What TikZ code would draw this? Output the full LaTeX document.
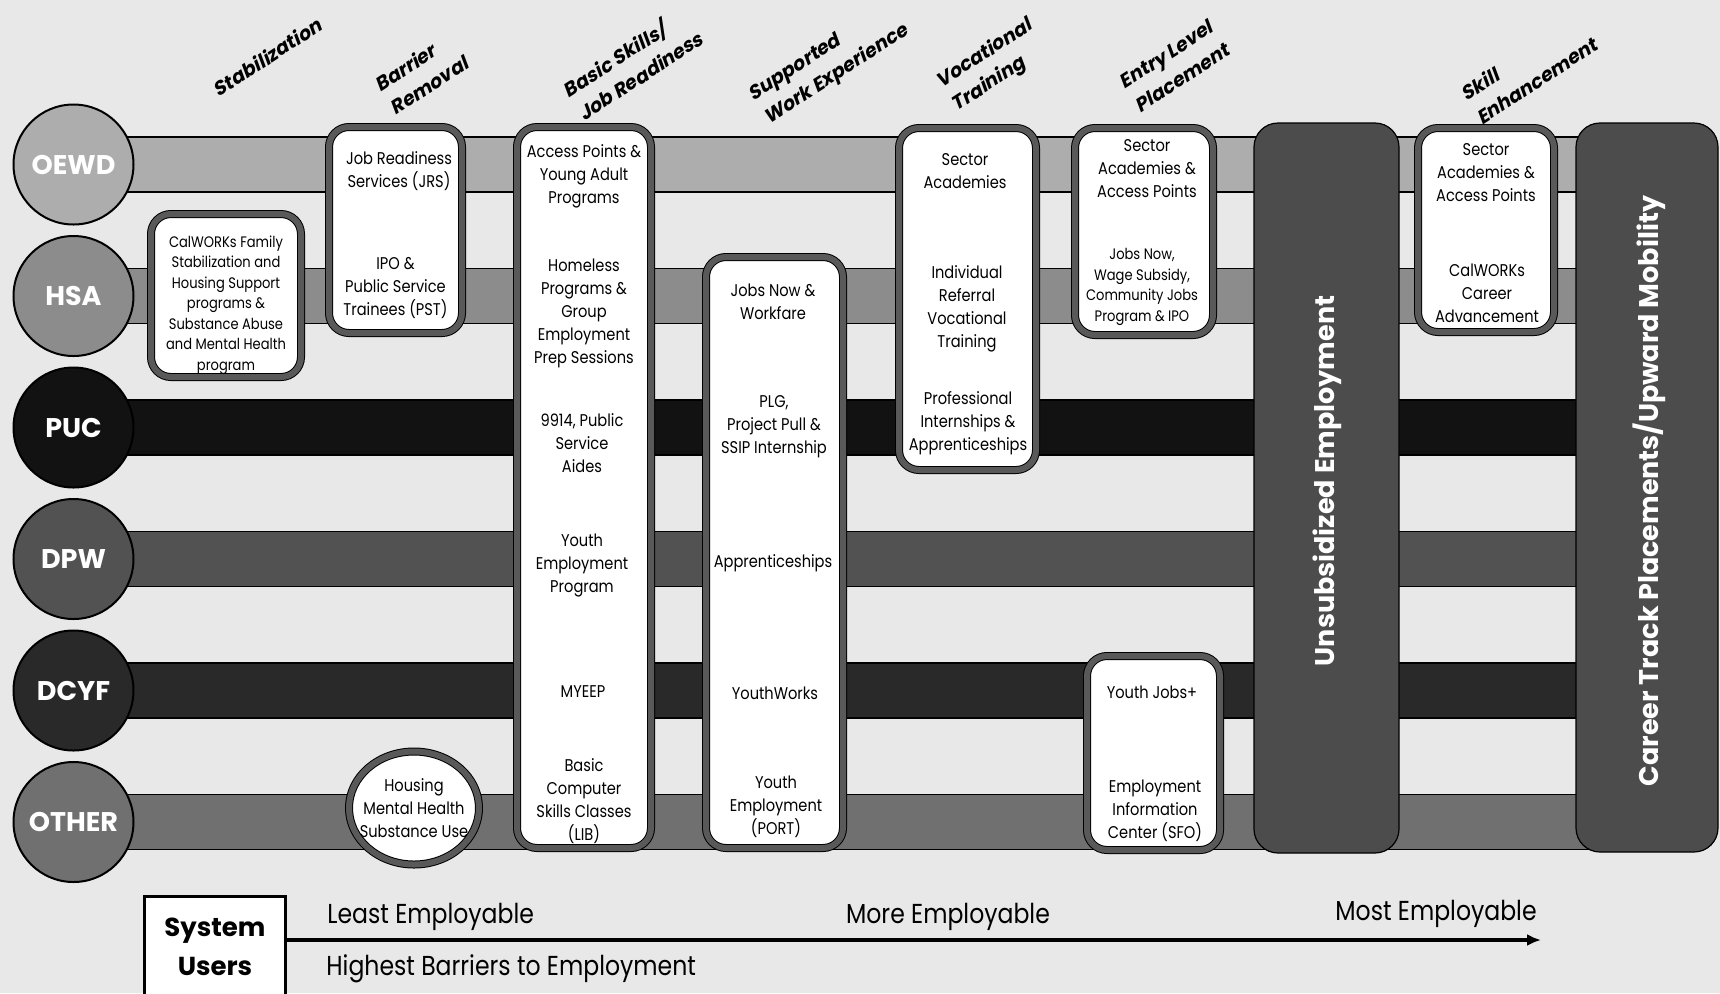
\documentclass[tikz,border=0pt]{standalone}
\usepackage{fontspec}
\setmainfont{Poppins}
\newfontfamily\boxfont{Poppins}[FakeStretch=0.86]
\newfontfamily\phasefont{Poppins}[FakeSlant=0.22]
\usetikzlibrary{shapes.geometric,calc,arrows.meta}
\pgfdeclarelayer{paper}
\pgfdeclarelayer{bands}
\pgfsetlayers{paper,bands,main}

\definecolor{papercol}{gray}{0.91}
\definecolor{rim}{gray}{0.35}
\definecolor{colfill}{gray}{0.3}
\colorlet{oewdc}{black!32}
\colorlet{hsac}{black!45}
\colorlet{pucc}{black!93}
\colorlet{dpwc}{black!68}
\colorlet{dcyfc}{black!84}
\colorlet{otherc}{black!56}

\tikzset{
  agency/.style={circle,draw=black,line width=1pt,minimum size=60pt,inner sep=0pt,
    text=white,font=\bfseries\fontsize{13.5}{15}\selectfont},
  band/.style={draw=black,line width=0.7pt},
  prog/.style={rounded corners=10pt,draw=black,line width=0.5pt,double=rim,
    double distance=3pt,fill=white},
  column/.style={rounded corners=12pt,draw=black,line width=0.6pt,fill=colfill},
  coltext/.style={rotate=90,text=white,font=\bfseries\fontsize{13.5}{15}\selectfont},
  item/.style={align=center,inner sep=0pt,font=\boxfont\fontsize{8.5}{11.5}\selectfont},
  smallitem/.style={item,font=\boxfont\fontsize{7.6}{10.25}\selectfont},
  phase/.style={rotate=33,align=left,inner sep=0pt,
    font=\phasefont\bfseries\fontsize{9.7}{14}\selectfont},
  legend/.style={inner sep=0pt,font=\boxfont\fontsize{13.7}{15}\selectfont}
}

\begin{document}
\begin{tikzpicture}[x=0.5pt,y=-0.5pt]
  \useasboundingbox (0,0) rectangle (1720,993);
  \clip (0,0) rectangle (1720,993);
  \begin{pgfonlayer}{paper}
    \fill[papercol] (0,0) rectangle (1720,993);
  \end{pgfonlayer}

  % agencies
  \node[agency,fill=oewdc]  (oewd)  at (73.5,164.5) {OEWD};
  \node[agency,fill=hsac]   (hsa)   at (73.5,296)   {HSA};
  \node[agency,fill=pucc]   (puc)   at (73.5,427.5) {PUC};
  \node[agency,fill=dpwc]   (dpw)   at (73.5,559)   {DPW};
  \node[agency,fill=dcyfc]  (dcyf)  at (73.5,690.5) {DCYF};
  \node[agency,fill=otherc] (other) at (73.5,822)   {OTHER};

  % employment columns
  \node[column,minimum width=72.5pt,minimum height=365pt] (unsub)  at (1326.5,488) {};
  \node[column,minimum width=71pt,minimum height=364.5pt] (career) at (1647,487.5) {};
  \node[coltext] (unsubtext)  at (1327,481) {Unsubsidized Employment};
  \node[coltext] (careertext) at (1649,491) {Career Track Placements/Upward Mobility};

  % rows
  \begin{pgfonlayer}{bands}
    \foreach \r in {oewd,hsa,puc,dpw,dcyf,other}
      \draw[band,fill=\r c] ($(\r.center)+(0,-27.5)$) rectangle ($(career.center |- \r.center)+(0,27.5)$);
  \end{pgfonlayer}

  % program boxes
  \node[prog,minimum width=75pt,minimum height=81.5pt]   (stab)     at (226,295.5)  {};
  \node[prog,minimum width=66.5pt,minimum height=103pt]  (barrier)  at (395.5,230)  {};
  \node[prog,minimum width=67pt,minimum height=360.5pt]  (basic)    at (584,487.5)  {};
  \node[prog,minimum width=68.5pt,minimum height=295.5pt](support)  at (774.5,552.5){};
  \node[prog,minimum width=68.5pt,minimum height=171pt]  (voc)      at (967.5,299)  {};
  \node[prog,minimum width=69pt,minimum height=103.5pt]  (entry)    at (1144,231.5) {};
  \node[prog,minimum width=66.5pt,minimum height=97pt]   (youthjob) at (1153.5,753) {};
  \node[prog,minimum width=68pt,minimum height=102pt]    (skill)    at (1486,230)   {};
  \node[prog,ellipse,minimum width=65pt,minimum height=56.5pt] (housing) at (414,808) {};

  % box texts
  \node[smallitem] (calworks) at (226,305) {CalWORKs Family\\Stabilization and\\Housing Support\\programs \&\\Substance Abuse\\and Mental Health\\program};
  \node[item] (jrs) at (399,171)   {Job Readiness\\Services (JRS)};
  \node[item] (pst) at (395.5,288.5) {IPO \&\\Public Service\\Trainees (PST)};

  \node[item] (access)   at (584,176.6) {Access Points \&\\Young Adult\\Programs};
  \node[item] (homeless) at (584,313)   {Homeless\\Programs \&\\Group\\Employment\\Prep Sessions};
  \node[item] (aides)    at (582,443)   {9914, Public\\Service\\Aides};
  \node[item] (yep)      at (582,565)   {Youth\\Employment\\Program};
  \node[item] (myeep)    at (583,692)   {MYEEP};
  \node[item] (lib)      at (584,801)   {Basic\\Computer\\Skills Classes\\(LIB)};

  \node[item] (jobsnow)  at (773,302)   {Jobs Now \&\\Workfare};
  \node[item] (plg)      at (774,427)   {PLG,\\Project Pull \&\\SSIP Internship};
  \node[item] (appr)     at (773,563)   {Apprenticeships};
  \node[item] (ywork)    at (775,693)   {YouthWorks};
  \node[item] (port)     at (776,807)   {Youth\\Employment\\(PORT)};

  \node[item] (sector)   at (965,171)   {Sector\\Academies};
  \node[item] (irvt)     at (967,309)   {Individual\\Referral\\Vocational\\Training};
  \node[item] (intern)   at (968,423)   {Professional\\Internships \&\\Apprenticeships};

  \node[item]      (entrysec) at (1147,169) {Sector\\Academies \&\\Access Points};
  \node[smallitem] (wage)     at (1142,287) {Jobs Now,\\Wage Subsidy,\\Community Jobs\\Program \& IPO};
  \node[item] (yjplus)   at (1152,692)  {Youth Jobs+};
  \node[item] (eic)      at (1155,811)  {Employment\\Information\\Center (SFO)};

  \node[item] (skillsec) at (1486,173)  {Sector\\Academies \&\\Access Points};
  \node[item] (career2)  at (1487,293)  {CalWORKs\\Career\\Advancement};

  \node[item] (housingtext) at (414,808) {Housing\\Mental Health\\Substance Use};

  % phase headings
  \node[phase] (hstab) at (267,57)    {Stabilization};
  \node[phase] (hbar)  at (421,73.5)  {Barrier\\Removal};
  \node[phase] (hbas)  at (632,63)    {Basic Skills/\\Job Readiness};
  \node[phase] (hsup)  at (829,63.5)  {Supported\\Work Experience};
  \node[phase] (hvoc)  at (992,66)    {Vocational\\Training};
  \node[phase] (hent)  at (1174,66)   {Entry Level\\Placement};
  \node[phase] (hski)  at (1529,69)   {Skill\\Enhancement};

  % legend
  \node[draw=black,line width=1.6pt,fill=white,minimum width=70.5pt,minimum height=50pt,
    align=center,font=\bfseries\fontsize{13}{19.5}\selectfont] (sysusers) at (215,946.5) {System\\Users};
  \coordinate (mostend) at (1541,940);
  \draw[line width=1.7pt,-{Latex[length=7pt,width=6pt]}] (sysusers.east |- mostend) -- (mostend);
  \node[legend,anchor=west] (least) at (327,917) {Least Employable};
  \node[legend] (more) at (948,917) {More Employable};
  \node[legend] (most) at (1436,914) {Most Employable};
  \node[legend,anchor=west] (barriers) at (326,969) {Highest Barriers to Employment};
\end{tikzpicture}
\end{document}
